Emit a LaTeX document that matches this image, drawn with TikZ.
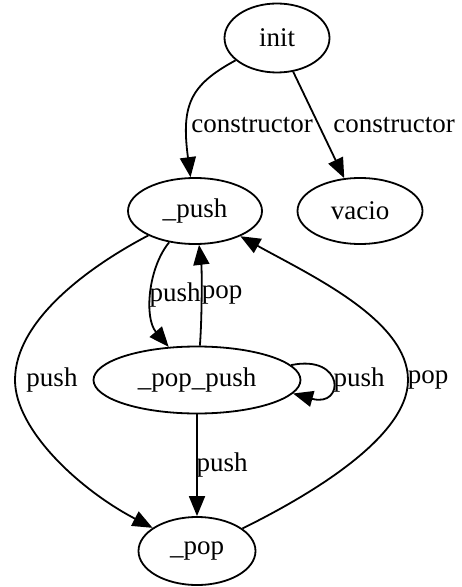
\documentclass[tikz,border=0pt]{standalone}
\usepackage{fontspec}
\setmainfont{Liberation Serif}
\usetikzlibrary{shapes.geometric,arrows.meta}
\begin{document}
\begin{tikzpicture}[x=0.5pt,y=-0.5pt,
  st/.style={draw, ellipse, line width=0.9pt, inner sep=0pt, font=\fontsize{13.5}{16}\selectfont},
  lbl/.style={inner sep=0pt, font=\fontsize{13.5}{16}\selectfont},
  arr/.style={line width=0.9pt, -{Triangle[length=10pt,width=8pt]}},
  ln/.style={line width=0.9pt}]
\useasboundingbox (0,0) rectangle (461,587);
\node[st, minimum width=52.5pt, minimum height=34.5pt] (init) at (277,38) {init};
\node[st, minimum width=67pt, minimum height=33pt] (push) at (195,211) {\_push};
\node[st, minimum width=62.5pt, minimum height=33pt] (vacio) at (360,211) {vacio};
\node[st, minimum width=103.5pt, minimum height=33.5pt] (poppush) at (197,380) {\_pop\_push};
\node[st, minimum width=58.5pt, minimum height=34pt] (pop) at (197,551) {\_pop};
% init -> _push
\draw[arr] (init) .. controls (190,85) and (181,105) .. (push)
  node[lbl] at (252,125) {constructor};
% init -> vacio
\draw[arr] (init) -- (vacio)
  node[lbl] at (394,125) {constructor};
% _push -> _pop_push
\draw[arr] (push) .. controls (148,268) and (144,318) .. (poppush)
  node[lbl] at (175,295) {push};
% _pop_push -> _push
\draw[arr] (poppush) .. controls (202,320) and (202,270) .. (push)
  node[lbl] at (222,295) {pop};
% self loop
\draw[arr] (poppush.9) .. controls (345,354) and (345,408) .. (poppush.-8)
  node[lbl] at (359,380) {push};
% _push -> _pop (left)
\coordinate (lw) at (15,380);
\draw[arr] (push) .. controls (90,266) and (15,320) .. (lw)
  .. controls (15,430) and (80,490) .. (pop);
\node[lbl] at (52,380) {push};
% _pop -> _push (right)
\coordinate (re) at (408,380);
\draw[arr] (pop) .. controls (300,500) and (408,440) .. (re)
  .. controls (408,320) and (310,275) .. (push);
\node[lbl] at (428,380) {pop};
% _pop_push -> _pop
\draw[arr] (poppush) -- (pop)
  node[lbl] at (222,465) {push};
\end{tikzpicture}
\end{document}
